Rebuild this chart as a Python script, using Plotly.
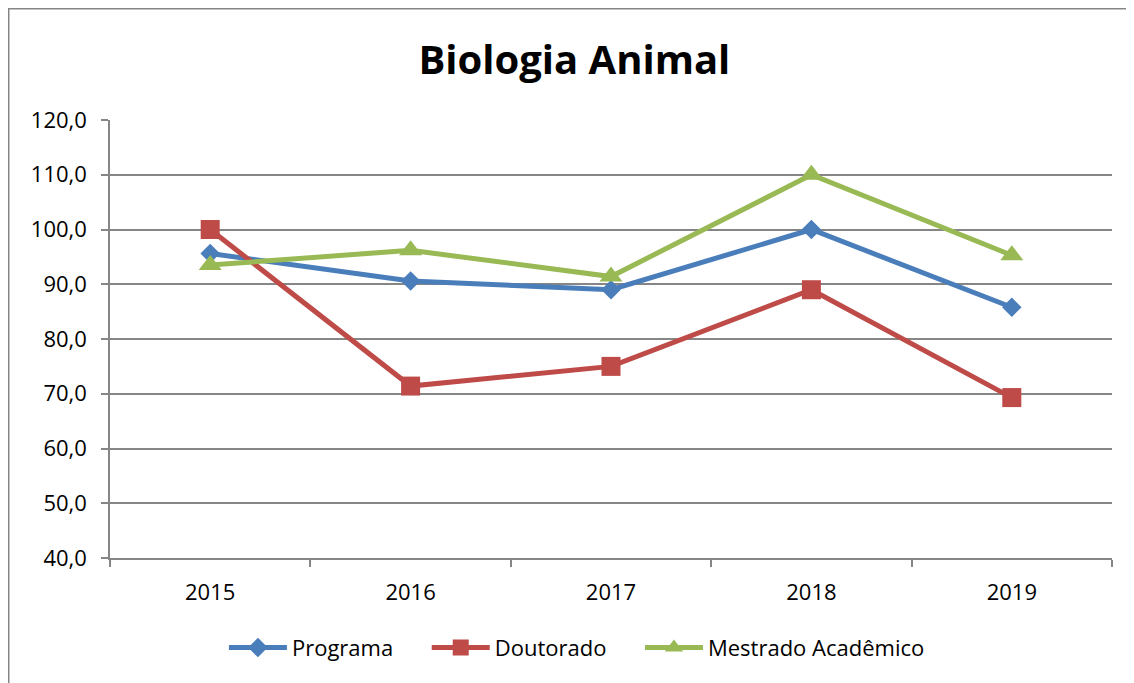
import plotly.graph_objects as go

anos = ["2015", "2016", "2017", "2018", "2019"]
programa = [95.6, 90.6, 89.0, 100.0, 85.8]
doutorado = [100.0, 71.4, 75.0, 89.0, 69.3]
mestrado = [93.5, 96.2, 91.4, 110.0, 95.3]

FONT = "Open Sans"
GRID = "#868686"
PAD = "&nbsp;" * 5  # extra room between legend entries

series = [
    ("Programa" + PAD, programa, "#4A7EBB", "diamond", 15),
    ("Doutorado" + PAD, doutorado, "#BE4B48", "square", 19),
    ("Mestrado Acadêmico", mestrado, "#98B954", "triangle-up", 20),
]

fig = go.Figure()
for name, vals, color, symbol, size in series:
    fig.add_trace(go.Scatter(
        x=anos, y=vals, name=name, mode="lines+markers",
        line=dict(color=color, width=5),
        marker=dict(symbol=symbol, size=size, color=color),
    ))

# the page puts the figure 8px in from the top-left corner
# plot area in figure coords: x 102..1104, y 112..550
fig.update_layout(
    width=1126, height=675,
    margin=dict(l=102, r=22, t=112, b=125),
    paper_bgcolor="white", plot_bgcolor="white",
    separators=",.",
    font=dict(family=FONT, size=22, color="black"),
    title=dict(text="<b>Biologia Animal</b>", x=0.503, xanchor="center",
               y=0.923, yanchor="middle", font=dict(size=40, family=FONT)),
    showlegend=True,
    legend=dict(orientation="h", x=0.466, xanchor="center", y=-0.205,
                yanchor="middle", itemwidth=58,
                font=dict(size=22), tracegroupgap=0),
    hovermode=False,
    shapes=[
        dict(type="line", xref="paper", yref="paper", x0=-0.1018, x1=1.03,
             y0=1.2557, y1=1.2557, line=dict(color=GRID, width=3)),
        dict(type="line", xref="paper", yref="paper", x0=-0.1018, x1=-0.1018,
             y0=1.2557, y1=-0.30, line=dict(color=GRID, width=3)),
    ],
)

fig.update_xaxes(
    type="category", range=[-0.5, 4.5], showgrid=False,
    showline=True, linecolor=GRID, linewidth=1.5,
    ticks="outside", tickson="boundaries", ticklen=7, tickcolor=GRID,
    tickwidth=1.5, ticklabelstandoff=14,
)
fig.update_yaxes(
    range=[40, 120], dtick=10, tickformat=".1f",
    showgrid=True, gridcolor=GRID, gridwidth=1.5,
    showline=True, linecolor=GRID, linewidth=1.5,
    ticks="outside", ticklen=7, tickcolor=GRID, tickwidth=1.5,
    ticklabelstandoff=10, zeroline=False,
)

fig.write_html("out.html", config={"displayModeBar": False})
